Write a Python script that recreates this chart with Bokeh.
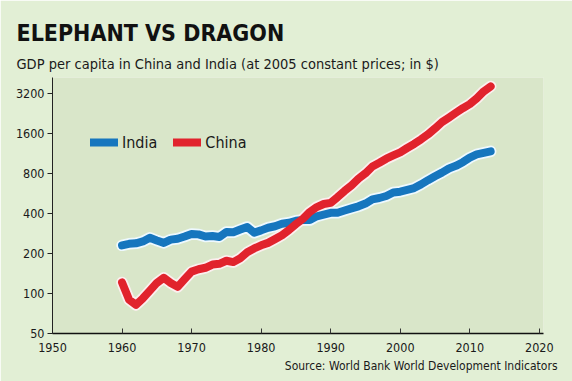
from bokeh.plotting import figure
from bokeh.models import Legend, LegendItem, FixedTicker, Title, Range1d
from bokeh.embed import file_html
from bokeh.resources import INLINE

years = list(range(1960, 2014))
india = [230, 236, 238, 246, 262, 250, 240, 254, 258, 268,
         280, 278, 268, 270, 266, 290, 288, 302, 316, 286,
         298, 312, 320, 334, 340, 352, 356, 356, 380, 392,
         404, 404, 420, 436, 452, 474, 510, 522, 540, 574,
         582, 600, 620, 660, 710, 760, 810, 870, 910, 970,
         1050, 1110, 1140, 1170]
china = [121, 90, 82, 92, 105, 120, 131, 120, 112, 128,
         146, 152, 156, 165, 167, 176, 172, 184, 204, 218,
         230, 240, 256, 274, 300, 332, 364, 410, 446, 470,
         480, 530, 590, 650, 730, 800, 900, 960, 1030, 1090,
         1150, 1240, 1330, 1440, 1570, 1740, 1940, 2100, 2280, 2470,
         2650, 2930, 3300, 3600]
x_ticks = [1950, 1960, 1970, 1980, 1990, 2000, 2010, 2020]
x_tick_labels = ["1950", "1960", "1970", "1980", "1990", "2000", "2010", "2020"]
y_ticks = [50, 100, 200, 400, 800, 1600, 3200]
y_tick_labels = ["50", "100", "200", "400", "800", "1600", "3200"]

FONT = "'DejaVu Sans Condensed', 'DejaVu Sans', sans-serif"
OUTER = "#e2efd5"
PANEL = "#d9e6c9"
BLUE = "#1676be"
RED = "#e1232d"

p = figure(title=None, frame_width=491, frame_height=256,
           min_border_left=52, min_border_right=29,
           min_border_top=77, min_border_bottom=48,
           y_axis_type="log",
           x_range=Range1d(1950, 2020.6), y_range=Range1d(50, 4200),
           output_backend="svg", toolbar_location=None)
p.background_fill_color = PANEL
p.border_fill_color = OUTER
p.outline_line_color = None
p.grid.visible = False

# light halos under the lines
p.line(years, india, line_color="#eef9ff", line_width=11.5, line_cap="round", line_join="round")
p.line(years, china, line_color="#fcefef", line_width=11.5, line_cap="round", line_join="round")
r_india = p.line(years, india, line_color=BLUE, line_width=8, line_cap="round", line_join="round")
r_china = p.line(years, china, line_color=RED, line_width=8, line_cap="round", line_join="round")

p.xaxis.ticker = FixedTicker(ticks=x_ticks)
p.xaxis.major_label_overrides = {t: l for t, l in zip(x_ticks, x_tick_labels)}
p.yaxis.ticker = FixedTicker(ticks=y_ticks)
p.yaxis.major_label_overrides = {t: l for t, l in zip(y_ticks, y_tick_labels)}
for ax in (p.xaxis, p.yaxis):
    ax.minor_tick_line_color = None
    ax.major_label_text_font = FONT
    ax.major_label_text_font_size = "12.5px"
    ax.major_label_text_color = "#1a1a1a"
p.xaxis.axis_line_color = "#111111"
p.xaxis.axis_line_width = 1.5
p.xaxis.major_tick_in = 5
p.xaxis.major_tick_out = 0
p.xaxis.major_tick_line_color = "#333333"
p.xaxis.major_label_standoff = 9
p.yaxis.axis_line_color = "#222222"
p.yaxis.axis_line_width = 1
p.yaxis.major_tick_in = 0
p.yaxis.major_tick_out = 5
p.yaxis.major_tick_line_color = "#222222"
p.yaxis.major_label_standoff = 3

legend = Legend(items=[LegendItem(label="India", renderers=[r_india]),
                       LegendItem(label="China", renderers=[r_china])],
                location=(38, 181), orientation="horizontal",
                background_fill_alpha=0, border_line_color=None,
                glyph_width=28, glyph_height=20, label_height=20,
                label_standoff=4, spacing=16, padding=0, margin=0,
                label_text_font=FONT, label_text_font_size="16px",
                label_text_color="#1a1a1a")
p.add_layout(legend)

sub = Title(text="GDP per capita in China and India (at 2005 constant prices; in $)",
            text_font=FONT, text_font_size="14.5px", text_font_style="normal",
            text_color="#1a1a1a", align="left", offset=-36, standoff=11)
main = Title(text="ELEPHANT VS DRAGON", text_font=FONT, text_font_size="23px",
             text_font_style="bold", text_color="#111111", align="left",
             offset=-36, standoff=5)
p.add_layout(sub, "above")
p.add_layout(main, "above")
src = Title(text="Source: World Bank World Development Indicators",
            text_font=FONT, text_font_size="12px", text_font_style="normal",
            text_color="#1a1a1a", align="right", offset=-14, standoff=5)
p.add_layout(src, "below")

html = file_html(p, INLINE)
open("out.html", "w").write(html)
